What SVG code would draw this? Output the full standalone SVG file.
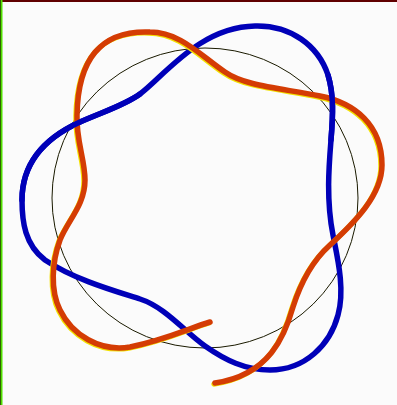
<svg xmlns="http://www.w3.org/2000/svg" xmlns:xlink="http://www.w3.org/1999/xlink" width="397" height="405" viewBox="0 0 397 405">
<style>
.blue{fill:none;stroke:#0000b8;stroke-width:5.5;stroke-linecap:round;stroke-linejoin:round}
.orange{fill:none;stroke:#d43c04;stroke-width:5.5;stroke-linecap:round}
.fringe{fill:none;stroke:#f2e000;stroke-width:5;stroke-linecap:round}
.ring{fill:none;stroke:#1a1a00;stroke-width:1}
</style>
<defs>
<path id="orangePath" d="M210,322 C190,328 165,340 130,347 C100,352 72,335 60,310 C50,290 52,262 60,240 C68,220 85,205 85,180 C85,160 76,140 77,115 C78,60 100,30 150,32 C180,32 200,55 225,72 C245,86 280,88 320,96 C355,103 382,125 382,165 C382,195 355,222 330,245 C310,263 300,285 293,307 C285,335 270,375 215,383"/>
</defs>
<rect x="0" y="0" width="397" height="405" fill="#fbfbfb"/>
<rect x="0" y="0" width="397" height="2" fill="#600000"/>
<rect x="0" y="0" width="1" height="405" fill="#306000"/>
<rect x="1" y="0" width="1.5" height="405" fill="#50e000"/>
<g id="circle">
<ellipse class="ring" cx="205" cy="198" rx="153" ry="150"/>
</g>
<g id="blue-loop">
<path class="blue" d="M22,200 C22,162 45,138 80,122 C105,111 125,105 140,94 C165,75 200,27 255,26 C290,25 318,45 328,75 C334,95 333,115 331,140 C329,165 326,200 333,235 C338,260 345,290 338,315 C330,345 305,370 270,370 C245,370 225,360 205,346 C185,332 165,307 140,299 C115,291 75,280 45,260 C25,245 22,222 22,200 Z"/>
</g>
<g id="orange-strand">
<use xlink:href="#orangePath" class="fringe" transform="translate(-1.2,1.2)"/>
<use xlink:href="#orangePath" class="orange"/>
</g>
<g id="blue-over">
<path class="blue" d="M22,200 C22,162 45,138 80,122 C105,111 125,105 140,94"/>
<path class="blue" d="M328,75 C334,95 333,115 331,140"/>
</g>
</svg>
